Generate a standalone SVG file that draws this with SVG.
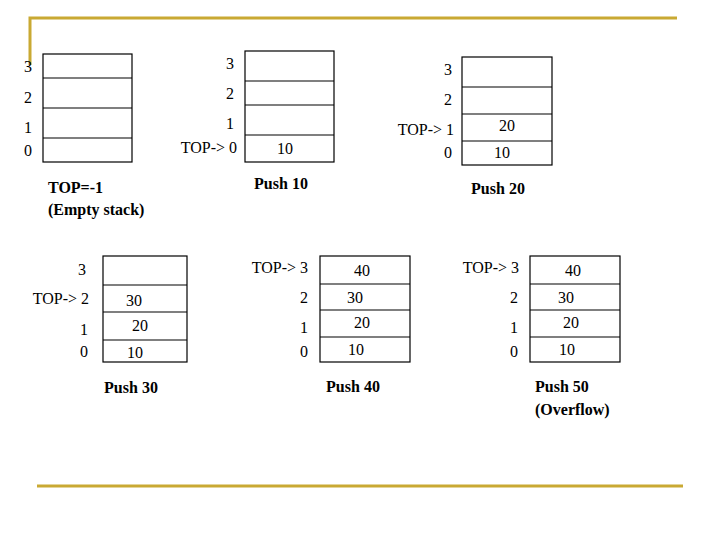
<svg xmlns="http://www.w3.org/2000/svg" width="720" height="540" viewBox="0 0 720 540">
<style>
text{font-family:"Liberation Serif",serif;font-size:16px;fill:#000}
.c{text-anchor:middle}.r{text-anchor:end}.b{font-weight:bold}
rect,line.d{fill:#fff;stroke:#000;stroke-width:1.2}
.g{stroke:#c9a933;stroke-width:3;fill:none}
</style>
<rect x="0" y="0" width="720" height="540" style="stroke:none"/>
<g id="frame"><path class="g" d="M30 65V18H677"/><line class="g" x1="37" y1="486" x2="683" y2="486"/></g>
<g id="s1">
<rect x="43" y="54" width="89" height="108"/><line class="d" x1="43" y1="78" x2="132" y2="78"/><line class="d" x1="43" y1="108" x2="132" y2="108"/><line class="d" x1="43" y1="138" x2="132" y2="138"/>
<text x="24" y="72">3</text><text x="24" y="103">2</text><text x="24" y="133">1</text><text x="24" y="156">0</text>
<text x="48" y="193" class="b">TOP=-1</text><text x="48" y="215" class="b">(Empty stack)</text>
</g>
<g id="s2">
<rect x="245" y="51" width="89" height="111"/><line class="d" x1="245" y1="81" x2="334" y2="81"/><line class="d" x1="245" y1="105" x2="334" y2="105"/><line class="d" x1="245" y1="135" x2="334" y2="135"/>
<text x="230" y="69" class="c">3</text><text x="230" y="99" class="c">2</text><text x="230" y="129" class="c">1</text><text x="237" y="153" class="r">TOP-&gt; 0</text>
<text x="285" y="154" class="c">10</text><text x="281" y="189" class="c b">Push 10</text>
</g>
<g id="s3">
<rect x="462" y="57" width="90" height="108"/><line class="d" x1="462" y1="87" x2="552" y2="87"/><line class="d" x1="462" y1="114" x2="552" y2="114"/><line class="d" x1="462" y1="141" x2="552" y2="141"/>
<text x="448" y="75" class="c">3</text><text x="448" y="105" class="c">2</text><text x="454" y="135" class="r">TOP-&gt; 1</text><text x="448" y="158" class="c">0</text>
<text x="507" y="131" class="c">20</text><text x="502" y="158" class="c">10</text><text x="498" y="194" class="c b">Push 20</text>
</g>
<g id="s4">
<rect x="103" y="256" width="84" height="106"/><line class="d" x1="103" y1="285" x2="187" y2="285"/><line class="d" x1="103" y1="312" x2="187" y2="312"/><line class="d" x1="103" y1="340" x2="187" y2="340"/>
<text x="82" y="275" class="c">3</text><text x="89" y="304" class="r">TOP-&gt; 2</text><text x="84" y="335" class="c">1</text><text x="84" y="357" class="c">0</text>
<text x="134" y="306" class="c">30</text><text x="140" y="331" class="c">20</text><text x="135" y="358" class="c">10</text>
<text x="131" y="393" class="c b">Push 30</text>
</g>
<g id="s5">
<rect x="320" y="256" width="90" height="106"/><line class="d" x1="320" y1="284" x2="410" y2="284"/><line class="d" x1="320" y1="310" x2="410" y2="310"/><line class="d" x1="320" y1="337" x2="410" y2="337"/>
<text x="308" y="273" class="r">TOP-&gt; 3</text><text x="304" y="303" class="c">2</text><text x="304" y="333" class="c">1</text><text x="304" y="357" class="c">0</text>
<text x="362" y="276" class="c">40</text><text x="355" y="303" class="c">30</text><text x="362" y="328" class="c">20</text><text x="356" y="355" class="c">10</text>
<text x="353" y="392" class="c b">Push 40</text>
</g>
<g id="s6">
<rect x="530" y="256" width="90" height="106"/><line class="d" x1="530" y1="284" x2="620" y2="284"/><line class="d" x1="530" y1="310" x2="620" y2="310"/><line class="d" x1="530" y1="337" x2="620" y2="337"/>
<text x="519" y="273" class="r">TOP-&gt; 3</text><text x="514" y="303" class="c">2</text><text x="514" y="333" class="c">1</text><text x="514" y="357" class="c">0</text>
<text x="573" y="276" class="c">40</text><text x="566" y="303" class="c">30</text><text x="571" y="328" class="c">20</text><text x="567" y="355" class="c">10</text>
<text x="535" y="392" class="b">Push 50</text><text x="535" y="415" class="b">(Overflow)</text>
</g>
</svg>
